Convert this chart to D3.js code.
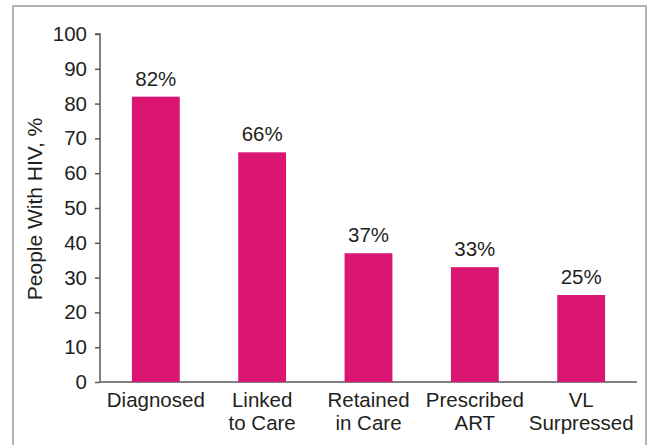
<!DOCTYPE html>
<html>
<head>
<meta charset="utf-8">
<script src="https://cdn.jsdelivr.net/npm/d3@7"></script>
<style>
  body { margin: 0; background: #fff; }
  text { font-family: "Liberation Sans", Arial, sans-serif; fill: #231f20; }
</style>
</head>
<body>
<svg id="chart"></svg>
<script>
var categories = [["Diagnosed"], ["Linked", "to Care"], ["Retained", "in Care"], ["Prescribed", "ART"], ["VL", "Surpressed"]];
var values = [82, 66, 37, 33, 25];
var yTicks = [0, 10, 20, 30, 40, 50, 60, 70, 80, 90, 100];

var width = 652,
    height = 445;

var svg = d3.select("#chart")
    .attr("width", width)
    .attr("height", height);

// frame round the figure
svg.append("rect")
    .attr("x", 13)
    .attr("y", 6)
    .attr("width", 633)
    .attr("height", 460)
    .style("fill", "none")
    .style("stroke", "#b3b3b3")
    .style("stroke-width", 2);

var x = d3.scaleBand()
    .domain(d3.range(values.length))
    .range([100, 637])
    .paddingInner(0.55)
    .paddingOuter(0.3);

var y = d3.scaleLinear()
    .domain([0, 100])
    .range([382, 34]);

// y axis
var yAxis = svg.append("g")
    .attr("transform", "translate(100,0)")
    .call(d3.axisLeft(y).tickValues(yTicks).tickSize(5).tickPadding(8));

yAxis.select(".domain").attr("d", "M-5," + y(100) + "H0V" + y(0));
yAxis.selectAll("path, line").style("stroke", "#58595b").style("stroke-width", 1.5);
yAxis.selectAll("text").style("font-size", "20.5px").style("fill", "#231f20")
    .style("font-family", "'Liberation Sans', Arial, sans-serif");

// x axis line
svg.append("line")
    .attr("x1", 100)
    .attr("x2", 637)
    .attr("y1", y(0))
    .attr("y2", y(0))
    .style("stroke", "#58595b")
    .style("stroke-width", 1.5);

// bars
svg.append("g")
    .selectAll("rect")
    .data(values)
    .enter()
    .append("rect")
    .attr("x", function (d, i) { return x(i); })
    .attr("y", function (d) { return y(d); })
    .attr("width", x.bandwidth())
    .attr("height", function (d) { return y(0) - y(d); })
    .style("fill", "#da1572");

// value labels
svg.append("g")
    .selectAll("text")
    .data(values)
    .enter()
    .append("text")
    .attr("x", function (d, i) { return x(i) + x.bandwidth() / 2; })
    .attr("y", function (d) { return y(d) - 11; })
    .attr("text-anchor", "middle")
    .style("font-size", "20.5px")
    .text(function (d) { return d + "%"; });

// category labels
var cat = svg.append("g")
    .selectAll("text")
    .data(categories)
    .enter()
    .append("text")
    .attr("x", function (d, i) { return x(i) + x.bandwidth() / 2; })
    .attr("y", 407)
    .attr("text-anchor", "middle")
    .style("font-size", "20.5px");

cat.selectAll("tspan")
    .data(function (d) { return d; })
    .enter()
    .append("tspan")
    .attr("x", function () { return d3.select(this.parentNode).attr("x"); })
    .attr("dy", function (d, i) { return i === 0 ? 0 : 22.5; })
    .text(function (d) { return d; });

// y title
svg.append("text")
    .attr("transform", "translate(42," + (y(50) + 1) + ") rotate(-90)")
    .attr("text-anchor", "middle")
    .style("font-size", "21px")
    .text("People With HIV, %");
</script>
</body>
</html>
